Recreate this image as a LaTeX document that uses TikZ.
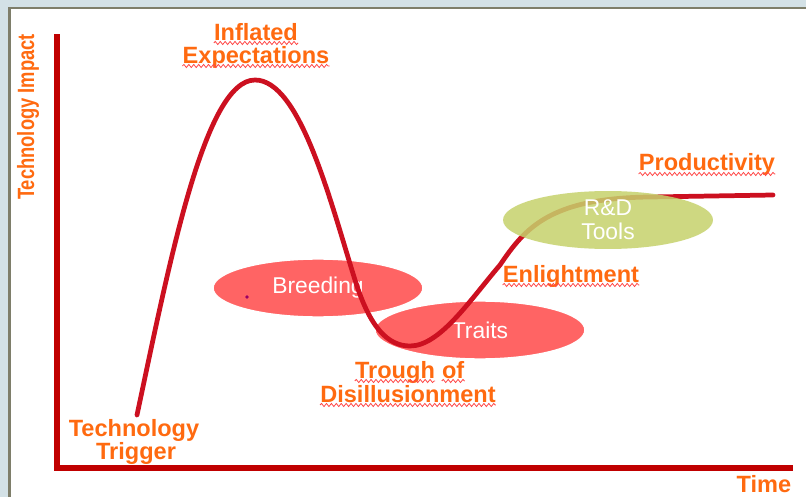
\documentclass[tikz,border=0pt]{standalone}
\usepackage{fontspec}
\setmainfont{Liberation Sans}
\usepackage{tikz}
\usetikzlibrary{positioning,shapes.geometric,decorations.pathmorphing}
\definecolor{AxisRed}{HTML}{C00000}
\definecolor{CurveRed}{HTML}{CC1020}
\definecolor{PhaseOrange}{HTML}{FF6A10}
\definecolor{BlobRed}{HTML}{FF6464}
\definecolor{BlobOlive}{HTML}{C6D26C}
\definecolor{WaveRed}{HTML}{FF4848}
\definecolor{FrameGrey}{HTML}{7E7E6A}
\definecolor{PageBlue}{HTML}{D3E1E6}

\begin{document}
\begin{tikzpicture}[
  x=0.02cm, y=-0.02cm,
  phase/.style={font=\fontsize{13.4}{14}\selectfont\bfseries, color=PhaseOrange,
                inner sep=0pt, anchor=base},
  blob/.style={ellipse, minimum width=4.2cm, minimum height=1.16cm, inner sep=0pt,
               font=\fontsize{13}{13.5}\selectfont, text=white},
  squiggle/.style={draw=WaveRed, line width=0.45pt, decorate,
                   decoration={snake, segment length=2.8pt, amplitude=0.9pt}}
]
  \clip (0,0) rectangle (806,497);
  % page and frame
  \fill[PageBlue] (0,0) rectangle (806,497);
  \filldraw[fill=white, draw=FrameGrey, line width=1.7pt] (9.5,8) rectangle (830,520);

  % axes
  \coordinate (top) at (57,34);
  \coordinate (origin) at (57,468);
  \coordinate (far) at (793,468);
  \draw[AxisRed, line width=2.9pt] (top) -- (origin) -- (far);

  % red blobs sit under the curve
  \node[blob, fill=BlobRed, draw=white, line width=0.8pt] (breed) at (318,288) {Breeding};
  \node[blob, fill=BlobRed, draw=white, line width=0.8pt] (traits) at (480,330) {Traits};
  \fill[violet!80!red] (247,297) circle (1.1pt);

  % hype curve: trigger, peak, trough, slope, plateau
  \coordinate (trigger) at (137,415);
  \coordinate (peak) at (255,80);
  \coordinate (fall) at (355,280);
  \coordinate (trough) at (410,346);
  \coordinate (slope) at (500,265);
  \coordinate (plateau) at (650,197);
  \coordinate (tail) at (773,195);
  \draw[CurveRed, line width=2.7pt, line cap=round]
    (trigger) .. controls (170,260) and (205,80) .. (peak)
    .. controls (300,80) and (330,200) .. (fall)
    .. controls (370,328) and (388,346) .. (trough)
    .. controls (440,346) and (470,300) .. (slope)
    .. controls (525,228) and (550,198) .. (plateau)
    -- (tail);

  % R&D blob lies over the curve
  \node[blob, fill=BlobOlive, fill opacity=0.85, text opacity=1, align=center] (rnd)
    at (608,220) {R\&D\\Tools};

  % phase labels
  \node[phase, rotate=90, xscale=0.78] (impact) at (34,117) {Technology Impact};
  \node[phase] (infl) at (256,40) {Inflated};
  \node[phase] (expt) at (256,63) {Expectations};
  \node[phase] (prod) at (707,171) {Productivity};
  \node[phase] (enl) at (571,282) {Enlightment};
  \node[phase] (trgh) at (395,378) {Trough};
  \node[phase, anchor=base west, base right=3.7pt of trgh] (of) {of};
  \node[phase] (disill) at (408,402) {Disillusionment};
  \node[phase] (tech) at (134,436) {Technology};
  \node[phase] (trig) at (136,459) {Trigger};
  \node[phase] (time) at (764,492) {Time};

  % spell-check squiggles
  \foreach \w in {infl,expt,prod,enl,trgh,of,disill}
    \draw[squiggle] ([yshift=-1.7pt]\w.base west) -- ([yshift=-1.7pt]\w.base east);
\end{tikzpicture}
\end{document}
